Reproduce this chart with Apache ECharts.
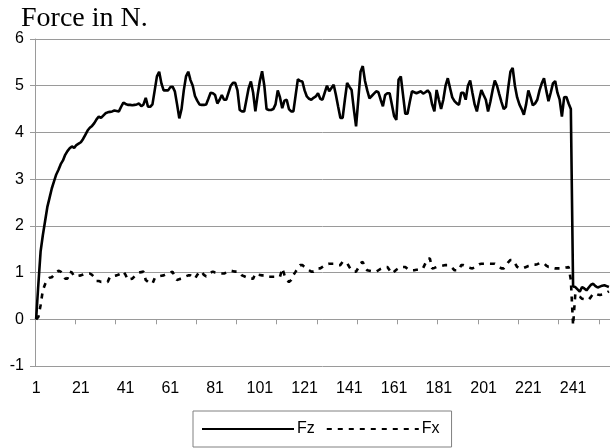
<!DOCTYPE html>
<html>
<head>
<meta charset="utf-8">
<script src="https://cdn.jsdelivr.net/npm/echarts@6/dist/echarts.min.js"></script>
<style>html,body{margin:0;padding:0;background:#fff;}#c{width:610px;height:448px;}</style>
</head>
<body>
<div id="c"></div>
<script>
var titleText = 'Force in N.';
var seriesNames = ['Fz', 'Fx'];
var categories = [];
for (var k = 1; k <= 257; k++) categories.push(String(k));
var yMin = -1, yMax = 6, yStep = 1;

var fz = [
0,0.75,1.45,1.8,2.1,2.4,2.6,2.8,2.95,3.1,
3.2,3.32,3.4,3.52,3.6,3.66,3.7,3.67,3.73,3.76,
3.79,3.86,3.95,4.04,4.1,4.14,4.2,4.28,4.34,4.31,
4.36,4.41,4.43,4.44,4.45,4.47,4.46,4.45,4.55,4.64,
4.61,4.59,4.59,4.58,4.59,4.6,4.62,4.56,4.6,4.74,
4.55,4.55,4.6,4.9,5.2,5.3,5.05,4.9,4.9,4.9,
4.97,4.98,4.88,4.6,4.3,4.5,4.9,5.2,5.3,5.12,
5.0,4.78,4.68,4.6,4.59,4.59,4.6,4.72,4.85,4.84,
4.8,4.62,4.7,4.8,4.7,4.7,4.85,5.0,5.06,5.06,
4.9,4.48,4.45,4.45,4.7,4.95,5.09,4.85,4.45,4.8,
5.1,5.31,5.0,4.5,4.48,4.48,4.5,4.6,4.9,4.75,
4.52,4.68,4.7,4.5,4.45,4.45,4.8,5.14,5.1,5.09,
4.9,4.77,4.72,4.7,4.74,4.77,4.84,4.72,4.7,4.85,
5.0,4.88,4.95,5.02,4.8,4.55,4.31,4.31,4.7,5.06,
4.98,4.91,4.5,4.13,4.7,5.3,5.42,5.1,4.9,4.73,
4.78,4.83,4.88,4.86,4.7,4.56,4.8,4.84,4.84,4.6,
4.35,4.27,5.13,5.2,4.8,4.4,4.4,4.65,4.88,4.86,
4.84,4.86,4.88,4.83,4.86,4.9,4.84,4.6,4.45,4.91,
4.7,4.5,4.7,5.0,5.16,4.95,4.75,4.67,4.62,4.59,
4.85,4.85,4.7,5.0,5.11,4.85,4.6,4.45,4.7,4.91,
4.8,4.7,4.45,4.65,4.9,5.11,5.0,4.82,4.65,4.5,
4.55,4.95,5.3,5.38,5.0,4.75,4.6,4.5,4.38,4.6,
4.9,4.75,4.58,4.62,4.7,4.9,5.05,5.16,4.9,4.67,
4.85,5.05,5.1,4.85,4.7,4.34,4.75,4.76,4.62,4.5,
0.7,0.69,0.64,0.59,0.69,0.66,0.62,0.68,0.74,0.76,
0.71,0.68,0.7,0.72,0.73,0.71,0.69
];

var fx = [
0,0.05,0.3,0.62,0.75,0.85,0.89,0.9,0.95,1.0,
1.04,1.02,0.95,0.87,0.87,1.02,1.0,0.92,0.92,0.93,
0.94,0.96,0.98,0.98,0.98,0.95,0.9,0.82,0.82,0.8,
0.8,0.8,0.8,0.91,0.92,0.93,0.94,0.96,0.98,1.02,
0.95,0.84,0.86,0.87,0.92,0.97,1.0,1.01,1.02,0.84,
0.8,0.78,0.76,0.88,0.91,0.92,0.93,0.94,0.96,0.98,
1.0,1.02,0.9,0.84,0.86,0.87,0.89,0.92,0.94,0.94,
0.9,0.87,0.95,1.02,1.02,0.95,0.92,0.97,1.0,1.02,
1.0,0.99,0.98,0.98,0.98,1.0,1.03,1.04,1.03,1.02,
1.02,1.0,0.94,0.92,0.9,0.87,0.87,0.87,0.98,0.96,
0.95,0.94,0.94,0.94,0.91,0.91,0.91,0.91,0.91,0.91,
1.09,0.95,0.84,0.8,0.84,0.95,1.02,1.1,1.16,1.16,
1.12,1.08,1.05,1.02,1.02,1.05,1.09,1.09,1.12,1.15,
1.18,1.19,1.19,1.19,1.18,1.16,1.16,1.23,1.23,1.2,
1.12,1.05,1.02,1.02,1.1,1.2,1.23,1.1,1.05,1.04,
1.03,1.02,1.02,1.05,1.08,1.1,1.12,1.12,1.05,0.98,
1.02,1.06,1.09,1.12,1.12,1.12,1.08,1.05,1.05,1.05,
1.06,1.06,1.06,1.1,1.2,1.3,1.3,1.09,1.1,1.12,
1.13,1.14,1.15,1.16,1.16,1.14,1.1,1.05,1.05,1.05,
1.16,1.16,1.14,1.12,1.1,1.09,1.11,1.15,1.18,1.19,
1.19,1.19,1.19,1.19,1.19,1.19,1.15,1.12,1.09,1.09,
1.15,1.22,1.27,1.27,1.2,1.12,1.09,1.09,1.1,1.12,
1.14,1.15,1.17,1.17,1.18,1.2,1.21,1.2,1.15,1.12,
1.12,1.1,1.09,1.09,1.09,1.09,1.1,1.11,1.12,0.84,
-0.13,0.55,0.5,0.48,0.44,0.43,0.41,0.42,0.48,0.55,
0.55,0.53,0.52,0.53,0.55,0.57,0.6
];

var chart = echarts.init(document.getElementById('c'), null, {renderer: 'canvas'});
var gridColor = '#9a9a9a';
chart.setOption({
  animation: false,
  backgroundColor: '#fff',
  title: {
    text: titleText, left: 16, top: 0,
    textStyle: {fontFamily: 'Liberation Serif', fontSize: 28, fontWeight: 'normal', color: '#000'}
  },
  legend: {
    data: seriesNames,
    left: 193, top: 411,
    orient: 'horizontal',
    itemWidth: 92, itemHeight: 14, itemGap: 11,
    padding: [10, 12, 10, 8],
    borderColor: '#808080', borderWidth: 1,
    itemStyle: {opacity: 0},
    textStyle: {fontFamily: 'Liberation Sans', fontSize: 16, color: '#000', padding: [0,0,0,-2]}
  },
  grid: {left: 35, right: 0, top: 39, bottom: 82, containLabel: false},
  xAxis: {
    type: 'category', data: categories, boundaryGap: true,
    axisLine: {onZero: true, lineStyle: {color: gridColor, width: 1}},
    axisTick: {show: true, interval: 17, length: 5, lineStyle: {color: gridColor}},
    axisLabel: {interval: 19, margin: 15, fontFamily: 'Liberation Sans', fontSize: 16, color: '#000'},
    splitLine: {show: false}
  },
  yAxis: {
    type: 'value', min: yMin, max: yMax, interval: yStep,
    axisLine: {show: true, lineStyle: {color: gridColor, width: 1}},
    axisTick: {show: true, length: 5, lineStyle: {color: gridColor}},
    axisLabel: {margin: 11, fontFamily: 'Liberation Sans', fontSize: 16, color: '#000'},
    splitLine: {show: true, lineStyle: {color: gridColor, width: 1}}
  },
  series: [
    {name: seriesNames[0], type: 'line', data: fz, symbol: 'none', smooth: false,
     lineStyle: {color: '#000', width: 2.6, type: 'solid'}, itemStyle: {color: '#000'}},
    {name: seriesNames[1], type: 'line', data: fx, symbol: 'none', smooth: false,
     lineStyle: {color: '#000', width: 2.6, type: [5, 6]}, itemStyle: {color: '#000'}}
  ]
});
</script>
</body>
</html>
